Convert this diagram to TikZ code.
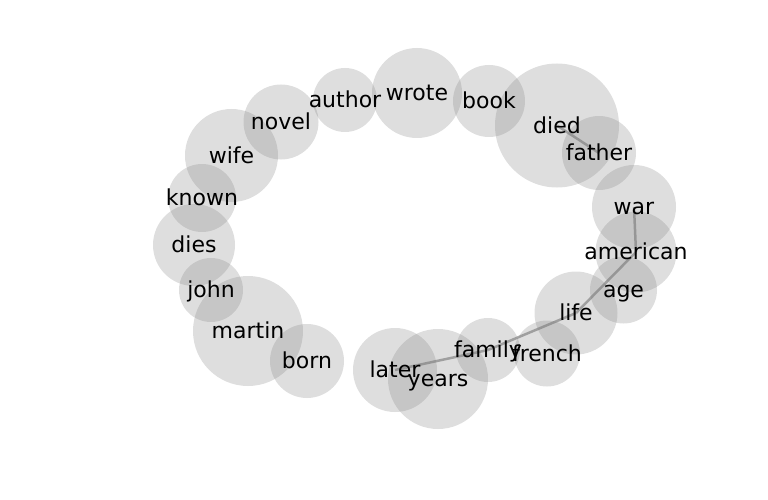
\documentclass[tikz,border=0pt]{standalone}
\usepackage{fontspec}
\setmainfont{DejaVu Sans}
\tikzset{
  bubble/.style={circle, draw=none, fill=black!50, fill opacity=0.26, inner sep=0pt},
  lbl/.style={font=\fontsize{22}{26}\selectfont, inner sep=0pt, text=black, text height=17pt, text depth=2pt},
  edge/.style={draw=black!33, line width=2.5pt}
}
\begin{document}
\begin{tikzpicture}[x=1pt,y=-1pt]
\useasboundingbox (0,0) rectangle (768,500);
% centres
\coordinate (author) at (345,100);
\coordinate (wrote) at (417,93);
\coordinate (novel) at (281,122);
\coordinate (wife) at (231.5,155.5);
\coordinate (known) at (202,198);
\coordinate (dies) at (194,245);
\coordinate (john) at (211,290);
\coordinate (martin) at (248,331);
\coordinate (born) at (307,361);
\coordinate (later) at (395,370);
\coordinate (years) at (438,379);
\coordinate (family) at (488,350);
\coordinate (french) at (547,353.5);
\coordinate (life) at (576,313);
\coordinate (age) at (623.5,290);
\coordinate (american) at (636,252);
\coordinate (war) at (634,207);
\coordinate (father) at (599,153);
\coordinate (died) at (557,125.5);
\coordinate (book) at (489,101);
% edges
\draw[edge] (died) -- (father);
\draw[edge] (war) -- (american);
\draw[edge] (american) -- (life);
\draw[edge] (life) -- (family);
\draw[edge] (family) -- (later);
% circles
\node[bubble, minimum size=64] (c-author) at (author) {};
\node[bubble, minimum size=90] (c-wrote) at (wrote) {};
\node[bubble, minimum size=75] (c-novel) at (novel) {};
\node[bubble, minimum size=93] (c-wife) at (wife) {};
\node[bubble, minimum size=68] (c-known) at (known) {};
\node[bubble, minimum size=82] (c-dies) at (dies) {};
\node[bubble, minimum size=64] (c-john) at (john) {};
\node[bubble, minimum size=110] (c-martin) at (martin) {};
\node[bubble, minimum size=74] (c-born) at (born) {};
\node[bubble, minimum size=84] (c-later) at (later) {};
\node[bubble, minimum size=100] (c-years) at (years) {};
\node[bubble, minimum size=64] (c-family) at (family) {};
\node[bubble, minimum size=66] (c-french) at (french) {};
\node[bubble, minimum size=83] (c-life) at (life) {};
\node[bubble, minimum size=67] (c-age) at (age) {};
\node[bubble, minimum size=81] (c-american) at (american) {};
\node[bubble, minimum size=84] (c-war) at (war) {};
\node[bubble, minimum size=74] (c-father) at (father) {};
\node[bubble, minimum size=124] (c-died) at (died) {};
\node[bubble, minimum size=72] (c-book) at (book) {};
% labels
\node[lbl] (t-author) at (author) {author};
\node[lbl] (t-wrote) at (wrote) {wrote};
\node[lbl] (t-novel) at (novel) {novel};
\node[lbl] (t-wife) at (wife) {wife};
\node[lbl] (t-known) at (known) {known};
\node[lbl] (t-dies) at (dies) {dies};
\node[lbl] (t-john) at (john) {john};
\node[lbl] (t-martin) at (martin) {martin};
\node[lbl] (t-born) at (born) {born};
\node[lbl] (t-later) at (later) {later};
\node[lbl] (t-years) at (years) {years};
\node[lbl] (t-family) at (family) {family};
\node[lbl] (t-french) at (french) {french};
\node[lbl] (t-life) at (life) {life};
\node[lbl] (t-age) at (age) {age};
\node[lbl] (t-american) at (american) {american};
\node[lbl] (t-war) at (war) {war};
\node[lbl] (t-father) at (father) {father};
\node[lbl] (t-died) at (died) {died};
\node[lbl] (t-book) at (book) {book};
\end{tikzpicture}
\end{document}
